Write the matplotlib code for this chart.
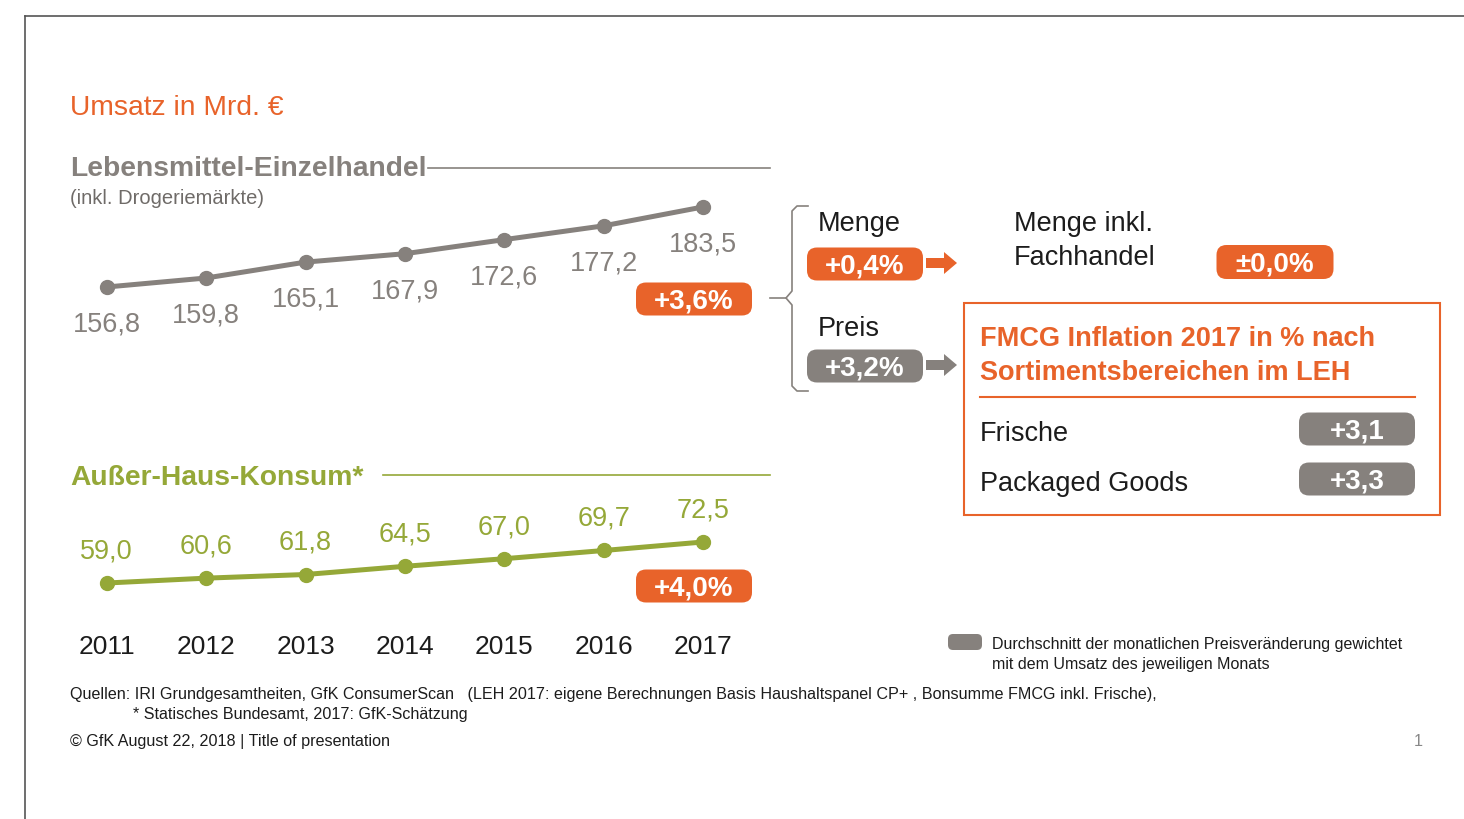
import matplotlib
matplotlib.use('Agg')
import matplotlib.pyplot as plt
from matplotlib.patches import FancyBboxPatch, FancyArrow, Rectangle

plt.rcParams['font.family'] = ['Liberation Sans', 'DejaVu Sans']

# Daten
years = [2011, 2012, 2013, 2014, 2015, 2016, 2017]
leh = [156.8, 159.8, 165.1, 167.9, 172.6, 177.2, 183.5]
ahk = [59.0, 60.6, 61.8, 64.5, 67.0, 69.7, 72.5]
leh_growth = '+3,6%'
ahk_growth = '+4,0%'
menge = '+0,4%'
preis = '+3,2%'
menge_fach = '±0,0%'
segments = ['Frische', 'Packaged Goods']
segment_vals = ['+3,1', '+3,3']

ORANGE = '#e8632a'
GRAY = '#86817d'
GREEN = '#95a838'
BLACK = '#1c1c1c'

W, H = 1464, 820
fig = plt.figure(figsize=(W / 100, H / 100), dpi=100)

# Hintergrund-Achse in Pixelkoordinaten
bg = fig.add_axes([0, 0, 1, 1])
bg.set_xlim(0, W)
bg.set_ylim(H, 0)
bg.axis('off')


def txt(x, y, s, **kw):
    kw.setdefault('va', 'center')
    return bg.text(x, y + 2, s, **kw)


def px_axes(x0, y0, x1, y1):
    # Achse über Pixelbereich (oben links / unten rechts)
    a = fig.add_axes([x0 / W, 1 - y1 / H, (x1 - x0) / W, (y1 - y0) / H])
    a.patch.set_alpha(0)
    for s in a.spines.values():
        s.set_visible(False)
    return a


def badge(cx, cy, text, color, w=116, h=33, fs=20):
    bg.add_patch(FancyBboxPatch((cx - w / 2 + 10, cy - h / 2 + 10), w - 20, h - 20,
                                boxstyle='round,pad=10', fc=color, ec='none'))
    txt(cx, cy, text, color='white', fontsize=fs, fontweight='bold', ha='center')


# Folienrahmen
bg.plot([25, W], [17, 17], color='#555555', lw=1.2)
bg.plot([25, 25], [17, H], color='#555555', lw=1.2)

# Titel links
txt(70, 106, 'Umsatz in Mrd. €', color=ORANGE, fontsize=20.3)
txt(70, 167, 'Lebensmittel-Einzelhandel', color=GRAY, fontsize=20.3, fontweight='bold')
bg.plot([428, 770], [169, 169], color=GRAY, lw=1.2)
txt(70, 196, '(inkl. Drogeriemärkte)', color='#6f6b68', fontsize=14.5)
txt(70, 476, 'Außer-Haus-Konsum*', color=GREEN, fontsize=20.3, fontweight='bold')
bg.plot([383, 770], [476, 476], color=GREEN, lw=1.2)

# Linie LEH
ax1 = px_axes(57, 180, 753, 300)
ax1.set_xlim(2010.5, 2017.5)
ax1.set_ylim(152.8, 192.8)
ax1.set_xticks([])
ax1.set_yticks([])
ax1.plot(years, leh, color=GRAY, lw=3.6, marker='o', ms=10, solid_capstyle='round')
for x, v in zip(years, leh):
    ax1.annotate(f'{v:.1f}'.replace('.', ','), (x, v), xytext=(0, -26.5),
                 textcoords='offset points', ha='center', va='center',
                 color=GRAY, fontsize=19.5, annotation_clip=False)

# Linie Außer-Haus
ax2 = px_axes(57, 530, 753, 600)
ax2.set_xlim(2010.5, 2017.5)
ax2.set_ylim(53.74, 76.77)
ax2.set_yticks([])
ax2.set_xticks(years)
ax2.set_xticklabels([str(y) for y in years])
ax2.tick_params(axis='x', length=0, pad=25.5, labelsize=19, labelcolor=BLACK)
ax2.plot(years, ahk, color=GREEN, lw=3.6, marker='o', ms=10, solid_capstyle='round')
for x, v in zip(years, ahk):
    ax2.annotate(f'{v:.1f}'.replace('.', ','), (x, v), xytext=(0, 23.5),
                 textcoords='offset points', ha='center', va='center',
                 color=GREEN, fontsize=19.5, annotation_clip=False)

# Wachstums-Badges
badge(694, 300, leh_growth, ORANGE)
badge(694, 587, ahk_growth, ORANGE)

# Klammer
bg.plot([808, 797, 792, 792, 786, 792, 792, 797, 808],
        [207, 207, 212, 292, 299, 306, 387, 392, 392], color=GRAY, lw=1.2)
bg.plot([770, 786], [299, 299], color=GRAY, lw=1.2)

# Menge / Preis
txt(818, 222, 'Menge', color=BLACK, fontsize=19.5)
badge(865, 265, menge, ORANGE)
bg.add_patch(FancyArrow(926, 264, 31, 0, width=10, head_width=22, head_length=13,
                        length_includes_head=True, fc=ORANGE, ec='none'))
txt(818, 327, 'Preis', color=BLACK, fontsize=19.5)
badge(865, 367, preis, GRAY)
bg.add_patch(FancyArrow(926, 366, 31, 0, width=10, head_width=22, head_length=13,
                        length_includes_head=True, fc=GRAY, ec='none'))

txt(1014, 222, 'Menge inkl.', color=BLACK, fontsize=19.5)
txt(1014, 256, 'Fachhandel', color=BLACK, fontsize=19.5)
badge(1275, 263, menge_fach, ORANGE, w=117, h=34)

# FMCG-Box
bg.add_patch(Rectangle((964, 304), 476, 212, fill=False, ec=ORANGE, lw=1.5))
txt(980, 337, 'FMCG Inflation 2017 in % nach', color=ORANGE, fontsize=19.5,
    fontweight='bold')
txt(980, 371, 'Sortimentsbereichen im LEH', color=ORANGE, fontsize=19.5,
    fontweight='bold')
bg.plot([980, 1415], [398, 398], color=ORANGE, lw=1.5)
for i, (name, val) in enumerate(zip(segments, segment_vals)):
    yy = 432 + i * 50
    txt(980, yy, name, color=BLACK, fontsize=19.5)
    badge(1357, yy - 2, val, GRAY, w=116, h=33)

# Legende
bg.add_patch(FancyBboxPatch((953, 640), 24, 6, boxstyle='round,pad=5',
                            fc=GRAY, ec='none'))
txt(992, 643, 'Durchschnitt der monatlichen Preisveränderung gewichtet',
    color=BLACK, fontsize=11.5)
txt(992, 663, 'mit dem Umsatz des jeweiligen Monats', color=BLACK, fontsize=11.5)

# Fußzeile
txt(70, 693, 'Quellen: IRI Grundgesamtheiten, GfK ConsumerScan   (LEH 2017: eigene '
    'Berechnungen Basis Haushaltspanel CP+ , Bonsumme FMCG inkl. Frische),',
    color=BLACK, fontsize=11.6)
txt(133, 713, '* Statisches Bundesamt, 2017: GfK-Schätzung', color=BLACK, fontsize=11.6)
txt(70, 740, '© GfK August 22, 2018 | Title of presentation', color=BLACK, fontsize=11.6)
txt(1418, 740, '1', color='#888888', fontsize=11.6, ha='center')

fig.savefig('out.png', dpi=100)
